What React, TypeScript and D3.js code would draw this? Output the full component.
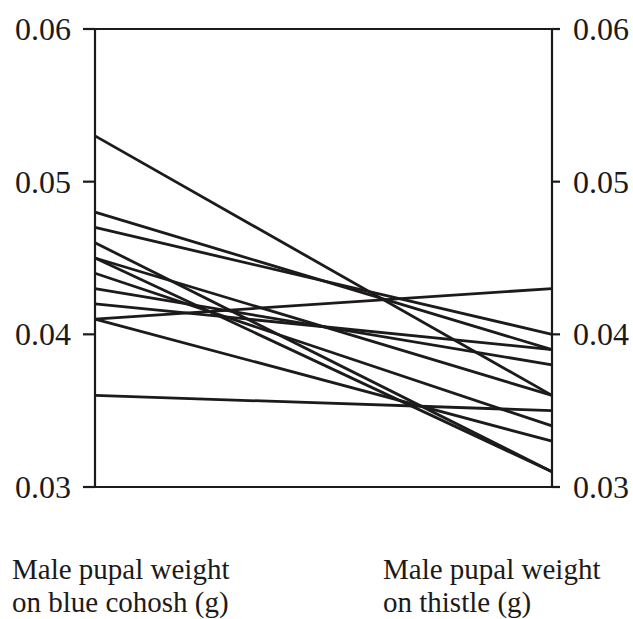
import React from "react";
import * as d3 from "d3";

// each pair: weight of the same male family on blue cohosh vs on thistle
const cohosh = [0.053, 0.048, 0.047, 0.046, 0.045, 0.045, 0.044, 0.043, 0.042, 0.041, 0.041, 0.036];
const thistle = [0.036, 0.039, 0.040, 0.031, 0.036, 0.031, 0.034, 0.038, 0.039, 0.043, 0.033, 0.035];
const ticks = [0.03, 0.04, 0.05, 0.06];
const leftLabel = ["Male pupal weight", "on blue cohosh (g)"];
const rightLabel = ["Male pupal weight", "on thistle (g)"];

const App = () => {
  const width = 633;
  const height = 619;
  const margin = { top: 29, right: 81, bottom: 132, left: 95 };
  const font = "'Liberation Serif', 'Times New Roman', serif";
  const ink = "#1c1a1a";

  const x = d3
    .scalePoint<string>()
    .domain(["cohosh", "thistle"])
    .range([margin.left, width - margin.right]);

  const y = d3
    .scaleLinear()
    .domain([0.03, 0.06])
    .range([height - margin.bottom, margin.top]);

  const pairs = cohosh.map((c, i) => [
    ["cohosh", c],
    ["thistle", thistle[i]],
  ] as [string, number][]);

  const line = d3
    .line<[string, number]>()
    .x((d) => x(d[0]) as number)
    .y((d) => y(d[1]));

  const x0 = x("cohosh") as number;
  const x1 = x("thistle") as number;
  const fmt = d3.format(".2f");

  // two-line caption; leading kept just wide enough that the lines don't touch
  const caption = (lines: string[], left: number) =>
    lines.map((s, i) => (
      <text key={s} x={left} y={579 + i * 33}>
        {s}
      </text>
    ));

  return (
    <svg width={width} height={height} style={{ position: "absolute", left: 0, top: 0 }}>
      <rect x={0} y={0} width={width} height={height} fill="#fff" />
      {/* box */}
      <g stroke={ink} strokeWidth={2.2} fill="none">
        <line x1={x0} x2={x1} y1={y(0.06)} y2={y(0.06)} />
        <line x1={x0} x2={x1} y1={y(0.03)} y2={y(0.03)} />
        <line x1={x0} x2={x0} y1={y(0.06)} y2={y(0.03)} />
        <line x1={x1} x2={x1} y1={y(0.06)} y2={y(0.03)} />
        {ticks.map((t) => (
          <g key={t}>
            <line x1={x0 - 12} x2={x0} y1={y(t)} y2={y(t)} />
            <line x1={x1} x2={x1 + 8} y1={y(t)} y2={y(t)} />
          </g>
        ))}
      </g>
      {/* tick labels */}
      <g fontFamily={font} fontSize={32} fill={ink}>
        {ticks.map((t) => (
          <g key={t}>
            <text x={x0 - 24} y={y(t) + 11} textAnchor="end">
              {fmt(t)}
            </text>
            <text x={x1 + 21} y={y(t) + 11} textAnchor="start">
              {fmt(t)}
            </text>
          </g>
        ))}
      </g>
      {/* family lines */}
      <g stroke={ink} strokeWidth={2.8} fill="none">
        {pairs.map((p, i) => (
          <path key={i} d={line(p) as string} />
        ))}
      </g>
      {/* axis captions */}
      <g fontFamily={font} fontSize={29} fill={ink}>
        {caption(leftLabel, 12)}
        {caption(rightLabel, 383)}
      </g>
    </svg>
  );
};

export default App;
